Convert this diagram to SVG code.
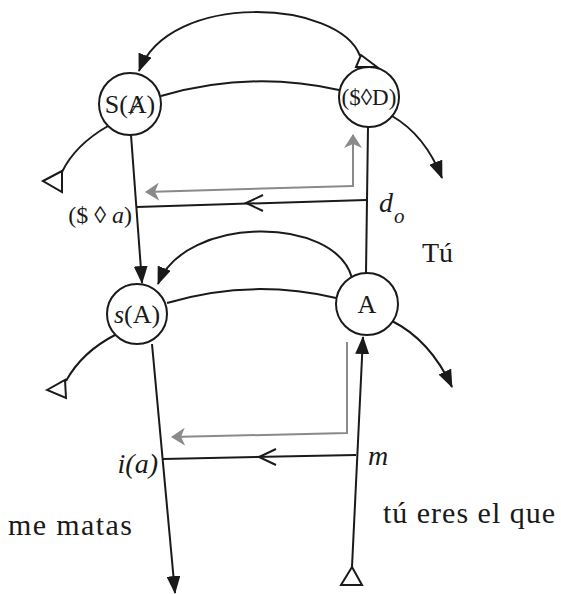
<svg xmlns="http://www.w3.org/2000/svg" width="561" height="594" viewBox="0 0 561 594">
<style>
.ln{fill:none;stroke:#1a1a1a;stroke-width:2}
.gr{fill:none;stroke:#8a8a8a;stroke-width:2}
.nd{fill:#fff;stroke:#1a1a1a;stroke-width:2}
.tri{fill:#fff;stroke:#1a1a1a;stroke-width:2;stroke-linejoin:miter}
text{fill:#1a1a1a}
.lbl{font-size:26px;text-anchor:middle}
.it{font-style:italic}
</style>
<defs>
<marker id="ah" viewBox="0 0 18 14" refX="17" refY="7" markerWidth="18" markerHeight="14" markerUnits="userSpaceOnUse" orient="auto">
<path d="M0,0 L18,7 L0,14 z" fill="#1a1a1a"/>
</marker>
<marker id="ag" viewBox="0 0 14 18" refX="13" refY="9" markerWidth="14" markerHeight="18" markerUnits="userSpaceOnUse" orient="auto">
<path d="M0,0 L14,9 L0,18 L4,9 z" fill="#8a8a8a"/>
</marker>
</defs>
<rect width="561" height="594" fill="#fff"/>
<g id="connectors">
<path class="ln" d="M360,56 C340,0 170,-10 139,71" marker-end="url(#ah)"/>
<polygon class="tri" points="356,67 377,67 361,55"/>
<path class="ln" d="M161,96 Q250,70 339,90"/>
<path class="ln" d="M108,126 Q75,145 62,172"/>
<polygon class="tri" points="43,181 62,171 62,192"/>
<path class="ln" d="M392,116 Q425,135 442,178" marker-end="url(#ah)"/>
<path class="ln" d="M131,135 L142,283" marker-end="url(#ah)"/>
<path class="ln" d="M368,127 L366,273"/>
<path class="gr" d="M353,186 L146,192" marker-end="url(#ag)"/>
<path class="gr" d="M353,187 L353,135" marker-end="url(#ag)"/>
<path class="ln" d="M366,200 L137,207"/>
<path class="ln" d="M263,195 L246,203 L263,211"/>
<path class="ln" d="M352,278 C335,215 185,215 158,284" marker-end="url(#ah)"/>
<path class="ln" d="M167,303 Q250,278 336,298"/>
<path class="ln" d="M115,335 Q82,352 66,381"/>
<polygon class="tri" points="47,390 65,380 66,398"/>
<path class="ln" d="M392,321 Q430,340 452,387" marker-end="url(#ah)"/>
<path class="ln" d="M152,344 L175,593" marker-end="url(#ah)"/>
<path class="ln" d="M352,567 L363,337" marker-end="url(#ah)"/>
<polygon class="tri" points="352,567 341,585 362,585"/>
<path class="gr" d="M347,342 L347,433 L172,437" marker-end="url(#ag)"/>
<path class="ln" d="M356,455 L163,459"/>
<path class="ln" d="M276,449 L259,457 L276,465"/>
</g>
<g id="node-SA">
<circle class="nd" cx="130" cy="104" r="31"/>
<text class="lbl" x="130" y="113" font-family="'Liberation Serif','Times New Roman','DejaVu Serif',serif">S(Ⱥ)</text>
</g>
<g id="node-SD">
<circle class="nd" cx="369" cy="97" r="30"/>
<text class="lbl" x="369" y="105" font-family="'Liberation Serif','Times New Roman','DejaVu Serif',serif" style="font-size:23px">($◊D)</text>
</g>
<g id="node-sA">
<circle class="nd" cx="137" cy="314" r="30"/>
<text class="lbl" x="137" y="323" font-family="'Liberation Serif','Times New Roman','DejaVu Serif',serif"><tspan class="it">s</tspan>(A)</text>
</g>
<g id="node-A">
<circle class="nd" cx="367" cy="304" r="31"/>
<text class="lbl" x="367" y="313" font-family="'Liberation Serif','Times New Roman','DejaVu Serif',serif">A</text>
</g>
<g id="labels" font-family="'Liberation Serif','Times New Roman','DejaVu Serif',serif">
<text x="132" y="223" text-anchor="end" style="font-size:24px">($ ◊ <tspan class="it">a</tspan>)</text>
<text x="379" y="212" class="it" style="font-size:28px">d</text>
<text x="394" y="223" class="it" style="font-size:21px">o</text>
<text x="422" y="262" style="font-size:28px">Tú</text>
<text x="158" y="473" text-anchor="end" class="it" style="font-size:28px">i(a)</text>
<text x="368" y="465" class="it" style="font-size:28px">m</text>
<text x="8" y="535" style="font-size:30px" textLength="124" lengthAdjust="spacing">me matas</text>
<text x="383" y="523" style="font-size:30px" textLength="172" lengthAdjust="spacing">tú eres el que</text>
</g>
</svg>
